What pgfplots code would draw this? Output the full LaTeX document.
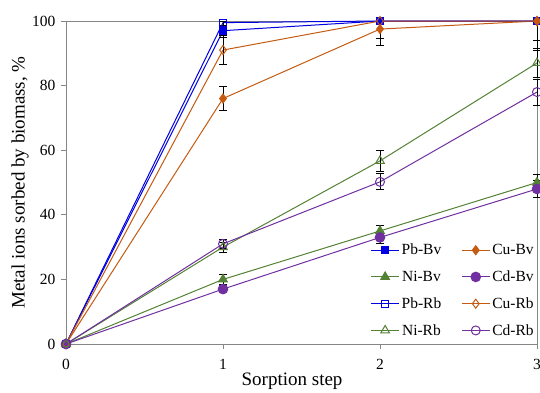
\documentclass[border=0pt]{standalone}
\usepackage{pgfplots}
\pgfplotsset{compat=1.18}
\usepackage{fontspec}
\setmainfont{Liberation Serif}
\definecolor{cblue}{RGB}{0,0,224}
\definecolor{corange}{RGB}{197,90,17}
\definecolor{cgreen}{RGB}{84,130,53}
\definecolor{cpurple}{RGB}{112,48,160}
\definecolor{cgray}{RGB}{134,134,134}
\begin{document}
\begin{tikzpicture}
\path[use as bounding box] (-66pt,-48pt) rectangle (474pt,344pt);
\begin{axis}[
  at={(0pt,0pt)}, anchor=south west,
  scale only axis, width=471pt, height=323pt,
  xmin=0, xmax=3, ymin=0, ymax=100,
  xtick={0,1,2,3}, ytick={0,20,40,60,80,100},
  tick align=outside, tick pos=left, major tick length=5pt,
  axis line style={cgray, line width=0.9pt},
  tick style={cgray, line width=0.8pt},
  /pgf/number format/assume math mode=true,
  ticklabel style={font=\fontsize{15.5}{15.5}\selectfont},
  xticklabel style={yshift=-7pt},
  yticklabel style={xshift=-2pt},
  clip=false,
  xlabel={Sorption step},
  ylabel={Metal ions sorbed by biomass, \%},
  label style={font=\fontsize{19}{19}\selectfont},
  xlabel style={at={(axis description cs:0.48,-0.114)}, anchor=center},
  ylabel style={at={(axis description cs:-0.0977,0.5)}, anchor=center},
  legend columns=2,
  legend style={draw=none, fill=none, at={(axis description cs:0.64,0.01)}, anchor=south west,
    font=\fontsize{15.5}{15.5}\selectfont, row sep=10.5pt,
    /tikz/every even column/.append style={column sep=18pt}},
  legend image code/.code={\draw[mark repeat=2,mark phase=2] plot coordinates {(0pt,0pt)(14pt,0pt)(28pt,0pt)};},
  every axis plot/.append style={line width=1pt},
  error bars/y dir=both, error bars/y explicit,
  error bars/error bar style={black, line width=0.9pt},
  error bars/error mark options={rotate=90, mark size=4pt, black, line width=0.9pt},
]
% Pb-Bv
\addplot[color=cblue, mark=square*, mark size=3.5pt, mark options={fill=cblue, solid}] coordinates {
 (0,0) +- (0,0)
 (1,97) += (0,1.5) -= (0,2)
 (2,100) += (0,0) -= (0,1)
 (3,100) += (0,0) -= (0,1)
};
\addlegendentry{Pb-Bv}
% Cu-Bv
\addplot[color=corange, mark=diamond*, mark size=4.5pt, mark options={fill=corange, solid}] coordinates {
 (0,0) +- (0,0)
 (1,76) +- (0,3.6)
 (2,97.5) += (0,2.5) -= (0,5)
 (3,100) += (0,0) -= (0,6)
};
\addlegendentry{Cu-Bv}
% Ni-Bv
\addplot[color=cgreen, mark=triangle*, mark size=5pt, mark options={fill=cgreen, solid}] coordinates {
 (0,0) +- (0,0)
 (1,20) +- (0,1.5)
 (2,35) +- (0,1.8)
 (3,50) +- (0,2.5)
};
\addlegendentry{Ni-Bv}
% Cd-Bv
\addplot[color=cpurple, mark=*, mark size=4.8pt, mark options={fill=cpurple, solid}] coordinates {
 (0,0) +- (0,0)
 (1,17) +- (0,1)
 (2,33) +- (0,1.8)
 (3,48) +- (0,2.5)
};
\addlegendentry{Cd-Bv}
% Pb-Rb
\addplot[color=cblue, mark=square, mark size=3.5pt, mark options={fill=white, solid}] coordinates {
 (0,0) +- (0,0)
 (1,99.5) += (0,0.5) -= (0,4.5)
 (2,100) += (0,0) -= (0,1)
 (3,100) += (0,0) -= (0,1)
};
\addlegendentry{Pb-Rb}
% Cu-Rb
\addplot[color=corange, mark=diamond, mark size=4.5pt, mark options={fill=white, solid}] coordinates {
 (0,0) +- (0,0)
 (1,91) +- (0,4.5)
 (2,100) += (0,0) -= (0,5.3)
 (3,100) += (0,0) -= (0,9)
};
\addlegendentry{Cu-Rb}
% Ni-Rb
\addplot[color=cgreen, mark=triangle, mark size=5pt, mark options={fill=white, solid}] coordinates {
 (0,0) +- (0,0)
 (1,30) +- (0,1.5)
 (2,56.7) +- (0,3.3)
 (3,87) +- (0,4.5)
};
\addlegendentry{Ni-Rb}
% Cd-Rb
\addplot[color=cpurple, mark=o, mark size=4.5pt, mark options={fill=white, solid}] coordinates {
 (0,0) +- (0,0)
 (1,31) +- (0,1.5)
 (2,50.2) +- (0,2.5)
 (3,78) +- (0,4)
};
\addlegendentry{Cd-Rb}
\end{axis}
\end{tikzpicture}
\end{document}
